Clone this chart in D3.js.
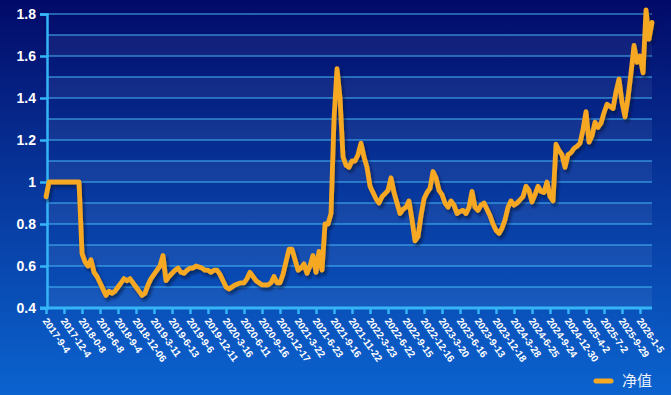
<!DOCTYPE html>
<html>
<head>
<meta charset="utf-8">
<script src="https://cdn.jsdelivr.net/npm/d3@7"></script>
<style>
html,body{margin:0;padding:0;background:#04206f;}
svg{display:block;}
</style>
</head>
<body>
<svg id="chart" width="671" height="395"></svg>
<script>
const seriesName = "净值";
const xLabels = ["2017-9-4","2017-12-4","2018-0-8","2018-6-8","2018-9-4","2018-12-06","2019-3-11","2019-6-13","2019-9-6","2019-12-11","2020-3-16","2020-6-11","2020-9-16","2020-12-17","2021-3-22","2021-6-23","2021-9-16","2021-11-22","2022-3-23","2022-6-22","2022-9-15","2022-12-16","2023-3-20","2023-6-16","2023-9-13","2023-12-18","2024-3-28","2024-6-25","2024-9-24","2024-12-30","2025-4-2","2025-7-2","2025-9-29","2026-1-5"];
const labelStep = 6; // samples between labelled ticks
const navValues = [
0.93,1.0,1.0,1.0,1.0,1.0,1.0,1.0,1.0,1.0,1.0,1.0,
0.66,0.62,0.60,0.63,0.57,0.55,0.52,0.49,0.46,0.48,0.47,0.48,
0.50,0.52,0.54,0.53,0.54,0.52,0.50,0.48,0.46,0.47,0.51,0.54,
0.56,0.58,0.60,0.65,0.53,0.55,0.565,0.58,0.59,0.57,0.565,0.58,
0.59,0.59,0.60,0.595,0.59,0.58,0.58,0.57,0.58,0.58,0.56,0.53,
0.50,0.49,0.50,0.51,0.515,0.52,0.52,0.54,0.57,0.55,0.53,0.52,
0.51,0.51,0.51,0.52,0.55,0.52,0.52,0.56,0.62,0.68,0.68,0.63,
0.58,0.59,0.61,0.565,0.60,0.65,0.57,0.67,0.58,0.80,0.80,0.85,
1.30,1.54,1.40,1.12,1.08,1.07,1.10,1.10,1.13,1.185,1.12,1.07,
0.98,0.95,0.92,0.90,0.93,0.945,0.96,1.02,0.95,0.90,0.85,0.87,
0.88,0.91,0.82,0.72,0.74,0.84,0.92,0.95,0.97,1.05,1.02,0.96,
0.94,0.90,0.88,0.91,0.89,0.85,0.86,0.865,0.85,0.88,0.955,0.88,
0.865,0.89,0.90,0.87,0.84,0.80,0.77,0.755,0.78,0.82,0.88,0.91,
0.89,0.90,0.915,0.93,0.98,0.96,0.905,0.94,0.98,0.955,0.95,1.0,
0.93,0.91,1.18,1.15,1.13,1.07,1.13,1.14,1.16,1.17,1.185,1.25,
1.335,1.19,1.22,1.285,1.26,1.28,1.33,1.37,1.36,1.35,1.43,1.49,
1.38,1.31,1.40,1.52,1.65,1.57,1.60,1.52,1.82,1.68,1.76
];
const yTicks = [0.4,0.6,0.8,1.0,1.2,1.4,1.6,1.8];
const yGrid = [0.4,0.5,0.6,0.7,0.8,0.9,1.0,1.1,1.2,1.3,1.4,1.5,1.6,1.7,1.8];

// ---- layout ----
const W = 671, H = 395;
const m = {left:47, right:19, top:14, bottom:87};
const svg = d3.select("#chart");
const defs = svg.append("defs");

const bg = defs.append("linearGradient").attr("id","bg").attr("x1",0).attr("y1",0).attr("x2",0).attr("y2",1);
bg.append("stop").attr("offset","0%").attr("stop-color","#020a68");
bg.append("stop").attr("offset","45%").attr("stop-color","#07359a");
bg.append("stop").attr("offset","100%").attr("stop-color","#0b63cf");

const sh = defs.append("filter").attr("id","shadow").attr("x","-10%").attr("y","-10%").attr("width","130%").attr("height","130%");
sh.append("feDropShadow").attr("dx",2).attr("dy",3).attr("stdDeviation",1.6)
  .attr("flood-color","#000a30").attr("flood-opacity",0.6);

svg.append("rect").attr("width",W).attr("height",H).attr("fill","url(#bg)");

const x = d3.scaleLinear().domain([0, navValues.length-1]).range([m.left-1, W-m.right]);
const y = d3.scaleLinear().domain([0.4,1.8]).range([H-m.bottom, m.top]);

// alternating bands
const bandPairs = d3.pairs(yGrid).filter((p,i)=> i%2===0);
svg.append("g").selectAll("rect").data(bandPairs).join("rect")
  .attr("x", m.left).attr("width", W-m.right-m.left)
  .attr("y", d=>y(d[1])).attr("height", d=>y(d[0])-y(d[1]))
  .attr("fill","#ffffff").attr("fill-opacity",0.06);

// grid lines
svg.append("g").selectAll("line").data(yGrid.filter(v=>v>0.4)).join("line")
  .attr("x1", m.left).attr("x2", W-m.right)
  .attr("y1", d=>y(d)).attr("y2", d=>y(d))
  .attr("stroke","#45b8f5").attr("stroke-width",1.2);

// y axis
const yAxis = d3.axisLeft(y).tickValues(yTicks).tickSize(7).tickPadding(4)
  .tickFormat(d=> d===1 ? "1" : d3.format(".1f")(d));
const gy = svg.append("g").attr("transform",`translate(${m.left},0)`).call(yAxis);
gy.select(".domain").attr("stroke","#35b5f7").attr("stroke-width",2.5);
gy.selectAll(".tick line").attr("stroke","#35b5f7").attr("stroke-width",2.5);
gy.selectAll("text").attr("fill","#ffffff").attr("font-family","Liberation Sans, Arial, sans-serif")
  .attr("font-size",14).attr("font-weight","bold");

// x axis
const tickIdx = xLabels.map((d,i)=>i*labelStep);
const xAxis = d3.axisBottom(x).tickValues(tickIdx).tickSize(6).tickFormat("");
const gx = svg.append("g").attr("transform",`translate(0,${H-m.bottom})`).call(xAxis);
gx.select(".domain").attr("d", `M${m.left-7},0H${W-m.right}`).attr("stroke","#35b5f7").attr("stroke-width",3);
gx.selectAll(".tick line").attr("stroke","#35b5f7").attr("stroke-width",2.5);

svg.append("g").selectAll("text").data(xLabels).join("text")
  .attr("transform",(d,i)=>`translate(${x(tickIdx[i])-1},${H-m.bottom+11}) rotate(55)`)
  .attr("text-anchor","start").attr("dy","0.35em")
  .attr("fill","#ffffff").attr("font-family","Liberation Sans, Arial, sans-serif")
  .attr("font-size",10).attr("font-weight","bold")
  .text(d=>d);

// line
const line = d3.line().x((d,i)=>x(i)).y(d=>y(d)).curve(d3.curveLinear);
svg.append("path").datum(navValues)
  .attr("d", line).attr("fill","none")
  .attr("stroke","#f7a823").attr("stroke-width",4.8)
  .attr("stroke-linejoin","round").attr("stroke-linecap","round")
  .attr("filter","url(#shadow)");

// legend
const lg = svg.append("g").attr("transform","translate(596,381)");
lg.append("line").attr("x1",0).attr("x2",15).attr("y1",0).attr("y2",0)
  .attr("stroke","#f7a823").attr("stroke-width",5).attr("stroke-linecap","round");
lg.append("text").attr("x",26).attr("y",0).attr("dy","0.35em")
  .attr("fill","#eef3ff").attr("font-family","Noto Sans CJK SC, sans-serif").attr("font-size",15)
  .text(seriesName);
</script>
</body>
</html>
